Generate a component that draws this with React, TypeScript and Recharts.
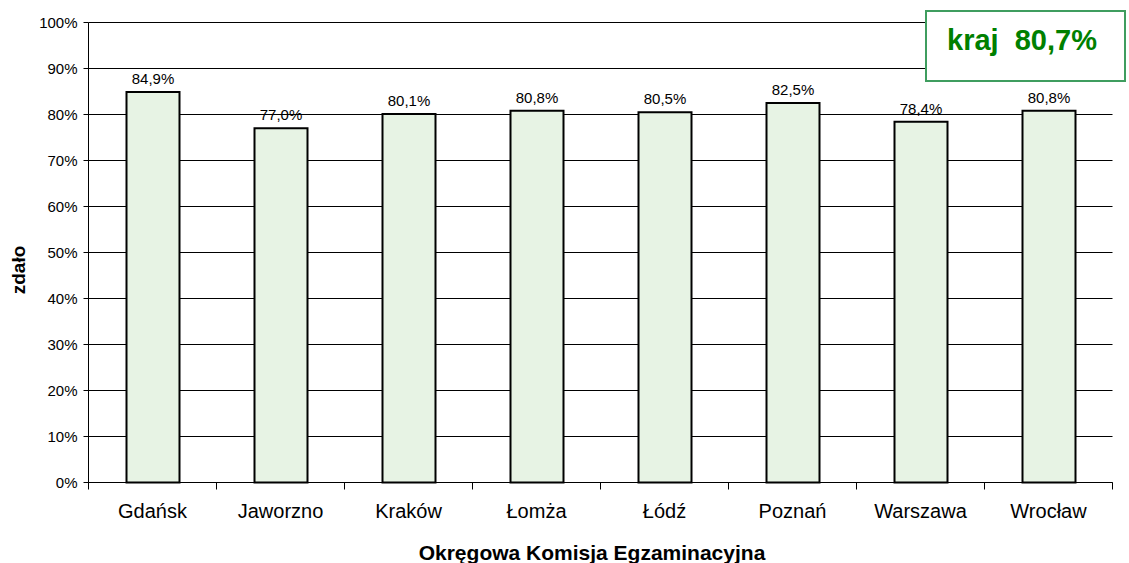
import { BarChart, Bar, XAxis, YAxis, CartesianGrid, LabelList } from 'recharts'

const regions = ['Gdańsk', 'Jaworzno', 'Kraków', 'Łomża', 'Łódź', 'Poznań', 'Warszawa', 'Wrocław']
const passRates = [84.9, 77.0, 80.1, 80.8, 80.5, 82.5, 78.4, 80.8]
const yTicks = [0, 10, 20, 30, 40, 50, 60, 70, 80, 90, 100]
const countryRate = 80.7

const FONT = '"Liberation Sans", Arial, sans-serif'

const chartData = regions.map((name, i) => ({ name, value: passRates[i] }))

const pct = (v: number) => `${v.toFixed(1).replace('.', ',')}%`

// tick marks sit between the categories, labels stay centred
function RegionTick(props: any) {
  const { x, y, payload, index } = props
  const half = payload.offset ?? 64
  return (
    <g>
      <line x1={x - half} y1={y} x2={x - half} y2={y + 7} stroke="#000" />
      {index === regions.length - 1 && (
        <line x1={x + half} y1={y} x2={x + half} y2={y + 7} stroke="#000" />
      )}
      <text x={x} y={y + 35} textAnchor="middle" fill="#000" fontSize={20} fontFamily={FONT}>
        {payload.value}
      </text>
    </g>
  )
}

export default function App() {
  return (
    <div style={{ position: 'absolute', left: 0, top: 0, width: 1129, height: 563, background: '#fff', fontFamily: FONT }}>
      <BarChart width={1129} height={563} data={chartData} margin={{ top: 22.5, right: 16.5, left: 28.5, bottom: 30.5 }}>
        <CartesianGrid vertical={false} stroke="#000" strokeWidth={1} />
        <XAxis
          dataKey="name"
          height={50}
          axisLine={{ stroke: '#000' }}
          tickLine={false}
          tickSize={0}
          tickMargin={0}
          tick={<RegionTick />}
          interval={0}
        />
        <YAxis
          width={60}
          domain={[0, 100]}
          ticks={yTicks}
          tickFormatter={(v: number) => `${v}%`}
          axisLine={{ stroke: '#000' }}
          tickLine={{ stroke: '#000' }}
          tickSize={5}
          tickMargin={6}
          tick={{ fill: '#000', fontSize: 15, fontFamily: FONT }}
        />
        <Bar dataKey="value" barSize={53} fill="#e7f3e4" stroke="#000" strokeWidth={2} isAnimationActive={false}>
          <LabelList
            dataKey="value"
            position="top"
            offset={8}
            formatter={(v: any) => pct(Number(v))}
            style={{ fill: '#000', fontSize: 15, fontFamily: FONT }}
          />
        </Bar>
      </BarChart>

      <div
        style={{
          position: 'absolute',
          left: -31,
          top: 259,
          width: 100,
          textAlign: 'center',
          whiteSpace: 'nowrap',
          transform: 'rotate(-90deg)',
          fontWeight: 'bold',
          fontSize: 19,
          lineHeight: '22px',
        }}
      >
        zdało
      </div>

      <div
        style={{
          position: 'absolute',
          left: 392,
          width: 400,
          top: 541,
          textAlign: 'center',
          whiteSpace: 'nowrap',
          fontWeight: 'bold',
          fontSize: 21,
          lineHeight: '24px',
        }}
      >
        Okręgowa Komisja Egzaminacyjna
      </div>

      <div
        style={{
          position: 'absolute',
          left: 925,
          top: 10,
          width: 197,
          height: 68,
          border: '2px solid #3f9d5f',
          background: '#fff',
          boxSizing: 'content-box',
        }}
      >
        <div
          style={{
            marginLeft: 20,
            marginTop: 11,
            color: '#008000',
            fontWeight: 'bold',
            fontSize: 29,
            lineHeight: '34px',
            whiteSpace: 'pre',
          }}
        >
          {`kraj  ${pct(countryRate)}`}
        </div>
      </div>
    </div>
  )
}
